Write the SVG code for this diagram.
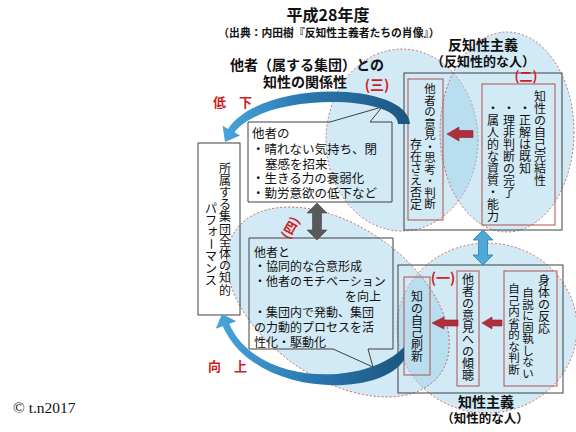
<svg xmlns="http://www.w3.org/2000/svg" width="576" height="432" viewBox="0 0 576 432">
<style>
text{font-family:"Noto Sans CJK JP","Noto Sans",sans-serif;fill:#111}
.t{font-weight:bold}
.red{fill:#d01c1c;font-weight:bold}
.v{font-size:12px}
.v115{font-size:11.5px}
.b12{font-size:12.5px}
.b12b{font-size:12px}
.ell{fill:#9bd0e9;fill-opacity:0.45;stroke:#c0504d;stroke-width:0.8;stroke-dasharray:2,2}
.box{fill:none;stroke:#404040;stroke-width:1}
.ibox{fill:none;stroke:#b0504a;stroke-width:1}
.rarr{fill:#b02f3c;stroke:#8a2030;stroke-width:0.6}
</style>
<defs>
<linearGradient id="gTop" x1="1" y1="0" x2="0" y2="0">
<stop offset="0" stop-color="#1b5680"/>
<stop offset="0.6" stop-color="#2d7bb5"/>
<stop offset="1" stop-color="#4aa6da"/>
</linearGradient>
<linearGradient id="gBot" x1="1" y1="0" x2="0" y2="0">
<stop offset="0" stop-color="#1b5680"/>
<stop offset="0.5" stop-color="#2a78b2"/>
<stop offset="1" stop-color="#4aa6da"/>
</linearGradient>
</defs>
<rect width="576" height="432" fill="#fff"/>

<g id="title">
<text class="t" text-anchor="middle"><tspan x="328" y="21" font-size="16">平成28年度</tspan><tspan x="329" y="37" font-size="10.8">（出典：内田樹『反知性主義者たちの肖像』）</tspan></text>
</g>

<rect x="198" y="143" width="42" height="172" fill="#fff"/>

<g id="circles">
<ellipse id="c3" class="ell" cx="402" cy="140" rx="76" ry="91"/>
<ellipse id="c2" class="ell" cx="507" cy="132" rx="67" ry="100"/>
<ellipse id="c1" class="ell" cx="487" cy="328" rx="90" ry="85"/>
<ellipse id="c4" class="ell" cx="338" cy="302" rx="125" ry="76" transform="rotate(35 338 302)"/>
</g>

<g id="relation-title">
<text class="t" font-size="14" text-anchor="middle"><tspan x="307" y="70">他者（属する集団）との</tspan><tspan x="305" y="87">知性の関係性</tspan></text>
</g>

<g id="performance">
<rect class="box" x="198" y="143" width="42" height="172"/>
<text class="v" x="219 219 219 219 219 219 219 219 219 219 219" y="172.6 184.8 197 209.2 221.4 233.6 245.8 258 270.2 282.4 294.6">所属する集団全体の知的</text>
<text class="v" x="205 205 206.5 206.4 205 205 205" y="212.6 224.6 234.6 238 260.6 272.6 284.6" rotate="0 0 0 90 0 0 0">パフォーマンス</text>
</g>

<g id="callout-low">
<path class="box" d="M248,122 H330 L382,107 L370,122 H392 V202 H248 Z"/>
<text class="b12"><tspan x="252" y="138">他者の</tspan><tspan x="252" y="154">・晴れない気持ち、閉</tspan><tspan x="265" y="169">塞感を招来</tspan><tspan x="252" y="183">・生きる力の衰弱化</tspan><tspan x="252" y="198">・勤労意欲の低下など</tspan></text>
</g>

<g id="callout-up">
<path class="box" d="M249,238 H393 V349 H368 L373,367 L333,349 H249 Z"/>
<text class="b12b"><tspan x="254" y="257">他者と</tspan><tspan x="254" y="271">・協同的な合意形成</tspan><tspan x="254" y="286">・他者のモチベーション</tspan><tspan x="345" y="301">を向上</tspan><tspan x="254" y="317">・集団内で発動、集団</tspan><tspan x="254" y="332">の力動的プロセスを活</tspan><tspan x="254" y="347">性化・駆動化</tspan></text>
</g>

<g id="anti-intellectual">
<text class="t" text-anchor="middle"><tspan x="483" y="50" font-size="14">反知性主義</tspan><tspan x="483" y="66" font-size="13">（反知性的な人）</tspan></text>
<rect class="box" x="404" y="73" width="158" height="157"/>
<rect class="ibox" x="408" y="79" width="35" height="141"/>
<text class="v115" x="424.25 424.25 424.25 424.25 424.25 424.25 424.25 424.25 424.25 424.25 424.25" y="93.1 104.6 116.1 127.6 139.1 150.6 162.1 173.6 185.1 196.6 208.1">他者の意見・思考・判断</text>
<text class="v" x="410 410 410 410 410 410" y="148.6 160.6 172.6 184.6 196.6 208.6">存在さえ否定</text>
<rect class="ibox" x="482" y="84" width="73" height="141"/>
<text class="v" x="534 534 534 534 534 534 534 534" y="100.6 112.6 124.6 136.6 148.6 160.6 172.6 184.6">知性の自己完結性</text>
<text class="v" x="519 519 519 519 519 519" y="112.6 124.6 136.6 148.6 160.6 172.6">・正解は既知</text>
<text class="v" x="503 503 503 503 503 503 503 503" y="112.6 124.6 136.6 148.6 160.6 172.6 184.6 196.6">・理非判断の完了</text>
<text class="v" x="487 487 487 487 487 487 487 487 487 487" y="112.6 124.6 136.6 148.6 160.6 172.6 184.6 196.6 208.6 220.6">・属人的な資質・能力</text>
</g>

<g id="intellectual">
<rect class="box" x="398" y="265" width="165" height="128"/>
<rect class="ibox" x="404" y="277" width="26" height="98"/>
<text class="v" x="411 411 411 411 411 411" y="300.6 312.6 324.6 336.6 348.6 360.6">知の自己刷新</text>
<rect class="ibox" x="457" y="271" width="22" height="115"/>
<text class="v" x="462 462 462 462 462 462 462 462 462" y="283.6 295.6 307.6 319.6 331.6 343.6 355.6 367.6 379.6">他者の意見への傾聴</text>
<rect class="ibox" x="504" y="271" width="53" height="115"/>
<text class="v" x="538 538 538 538 538" y="284.6 296.6 308.6 320.6 332.6">身体の反応</text>
<text class="v115" x="522.25 522.25 522.25 522.25 522.25 522.25 522.25 522.25" y="297.1 308.6 320.1 331.6 343.1 354.6 366.1 377.6">自説に固執しない</text>
<text class="v115" x="508.25 508.25 508.25 508.25 508.25 508.25 508.25 508.25" y="293.1 304.6 316.1 327.6 339.1 350.6 362.1 373.6">自己内省的な判断</text>
<text class="t" text-anchor="middle"><tspan x="486" y="407" font-size="14">知性主義</tspan><tspan x="485" y="423" font-size="12.5">（知性的な人）</tspan></text>
</g>

<g id="labels">
<text class="red" x="377" y="90" font-size="14" text-anchor="middle">(三)</text>
<text class="red" x="526" y="81" font-size="13" text-anchor="middle">(二)</text>
<text class="red" x="443" y="283" font-size="14" text-anchor="middle">(一)</text>
<text class="red" x="291" y="232" font-size="13" text-anchor="middle" transform="rotate(-60 291 228)">(四)</text>
<text class="red" x="213" y="107" font-size="13">低　下</text>
<text class="red" x="208" y="371" font-size="13">向　上</text>
</g>

<g id="connectors">
<path d="M410,124 C408,82 262,78 228,129 L222.6,125.7 L225,142 L240,135.5 L234.4,132.3 C265,92 398,95 398,124 Z" fill="url(#gTop)"/>
<path d="M404,360 C380,398 255,398 222.7,326.2 L215.7,328.7 L222,314 L236.3,321.3 L229.3,323.8 C255,385 365,388 404,347 Z" fill="url(#gBot)"/>
<polygon class="rarr" points="447,134 459,127 459,130.5 473,130.5 473,137.5 459,137.5 459,141"/>
<polygon class="rarr" points="432,323 444,317 444,320 458,320 458,326 444,326 444,329"/>
<polygon class="rarr" points="482,323 492,317 492,320 502,320 502,326 492,326 492,329"/>
<polygon points="317,203 327,213 321.5,213 321.5,230 327,230 317,240 307,230 312.5,230 312.5,213 307,213" fill="#595959" stroke="#444" stroke-width="0.6"/>
<polygon points="483,230 493,240 487.5,240 487.5,255 493,255 483,265 473,255 478.5,255 478.5,240 473,240" fill="#4fa9d6" stroke="#2a7fb0" stroke-width="0.8"/>
</g>

<text x="13" y="413" font-size="15.5" style="font-family:'Liberation Serif',serif">© t.n2017</text>
</svg>
